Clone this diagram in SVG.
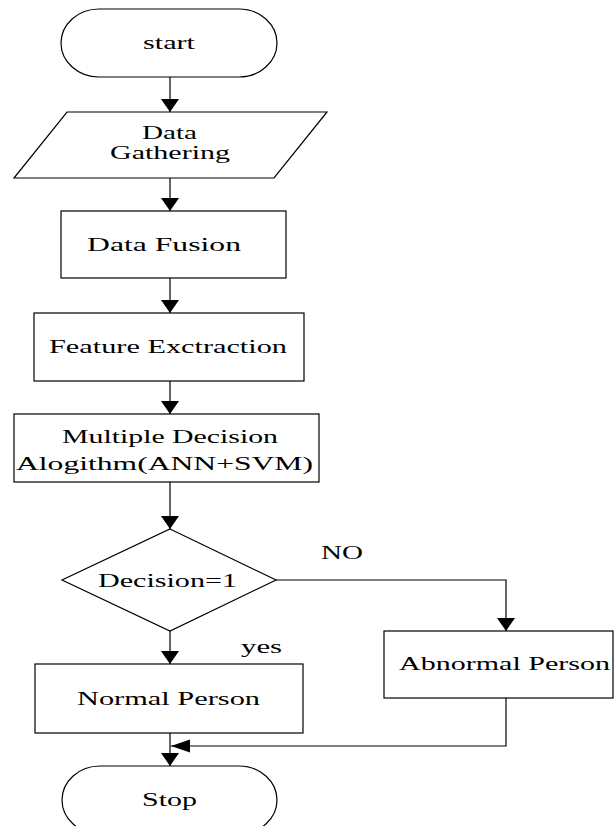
<svg xmlns="http://www.w3.org/2000/svg" width="615" height="826" viewBox="0 0 615 826">
<style>
.s{fill:#fff;stroke:#000;stroke-width:1.2}
.c{fill:none;stroke:#000;stroke-width:1.2}
text{font-family:"Liberation Serif","Times New Roman",serif;font-size:19px;fill:#000}
.t2{font-size:18px}
</style>
<defs>
<marker id="av" markerUnits="userSpaceOnUse" markerWidth="14" markerHeight="18" refX="13" refY="9" orient="auto" viewBox="0 0 14 18">
<path d="M0,0 L13,9 L0,18 Z" fill="#000"/>
</marker>
<marker id="ah" markerUnits="userSpaceOnUse" markerWidth="20" markerHeight="14" refX="19" refY="6.5" orient="auto" viewBox="0 0 20 14">
<path d="M0,0 L19,6.5 L0,13 Z" fill="#000"/>
</marker>
</defs>
<g id="connectors">
<line class="c" x1="170" y1="77" x2="170" y2="112" marker-end="url(#av)"/>
<line class="c" x1="170" y1="178" x2="170" y2="211" marker-end="url(#av)"/>
<line class="c" x1="170" y1="278" x2="170" y2="313" marker-end="url(#av)"/>
<line class="c" x1="170" y1="381" x2="170" y2="414" marker-end="url(#av)"/>
<line class="c" x1="170" y1="482" x2="170" y2="529" marker-end="url(#av)"/>
<line class="c" x1="170" y1="631" x2="170" y2="664" marker-end="url(#av)"/>
<polyline class="c" points="276,580 506,580 506,631" marker-end="url(#av)"/>
<line class="c" x1="170" y1="733" x2="170" y2="766" marker-end="url(#av)"/>
<polyline class="c" points="506,698 506,746 171,746" marker-end="url(#ah)"/>
<text x="321" y="559" textLength="42" lengthAdjust="spacingAndGlyphs">NO</text>
<text x="241" y="653" textLength="41" lengthAdjust="spacingAndGlyphs">yes</text>
</g>
<g id="start">
<rect class="s" x="61" y="9" width="216" height="68" rx="38" ry="34"/>
<text x="143" y="49" textLength="52" lengthAdjust="spacingAndGlyphs">start</text>
</g>
<g id="data-gathering">
<polygon class="s" points="67,112 327,112 274,178 14,178"/>
<text class="t2" x="142" y="139" textLength="55" lengthAdjust="spacingAndGlyphs">Data</text>
<text class="t2" x="110" y="159" textLength="120" lengthAdjust="spacingAndGlyphs">Gathering</text>
</g>
<g id="data-fusion">
<rect class="s" x="61" y="211" width="225" height="67"/>
<text x="87" y="251" textLength="154" lengthAdjust="spacingAndGlyphs">Data Fusion</text>
</g>
<g id="feature-extraction">
<rect class="s" x="34" y="313" width="270" height="68"/>
<text x="49" y="353" textLength="238" lengthAdjust="spacingAndGlyphs">Feature Exctraction</text>
</g>
<g id="multiple-decision">
<rect class="s" x="14" y="414" width="305" height="68"/>
<text x="62" y="443" textLength="216" lengthAdjust="spacingAndGlyphs">Multiple Decision</text>
<text x="16" y="470" textLength="297" lengthAdjust="spacingAndGlyphs">Alogithm(ANN+SVM)</text>
</g>
<g id="decision">
<polygon class="s" points="170,529 276,580 170,631 62,580"/>
<text x="98" y="587" textLength="139" lengthAdjust="spacingAndGlyphs">Decision=1</text>
</g>
<g id="normal-person">
<rect class="s" x="35" y="664" width="268" height="69"/>
<text x="77" y="705" textLength="183" lengthAdjust="spacingAndGlyphs">Normal Person</text>
</g>
<g id="abnormal-person">
<rect class="s" x="384" y="631" width="229" height="67"/>
<text x="399" y="670" textLength="211" lengthAdjust="spacingAndGlyphs">Abnormal Person</text>
</g>
<g id="stop">
<rect class="s" x="62" y="766" width="215" height="68" rx="38" ry="34"/>
<text x="142" y="806" textLength="55" lengthAdjust="spacingAndGlyphs">Stop</text>
</g>
</svg>
